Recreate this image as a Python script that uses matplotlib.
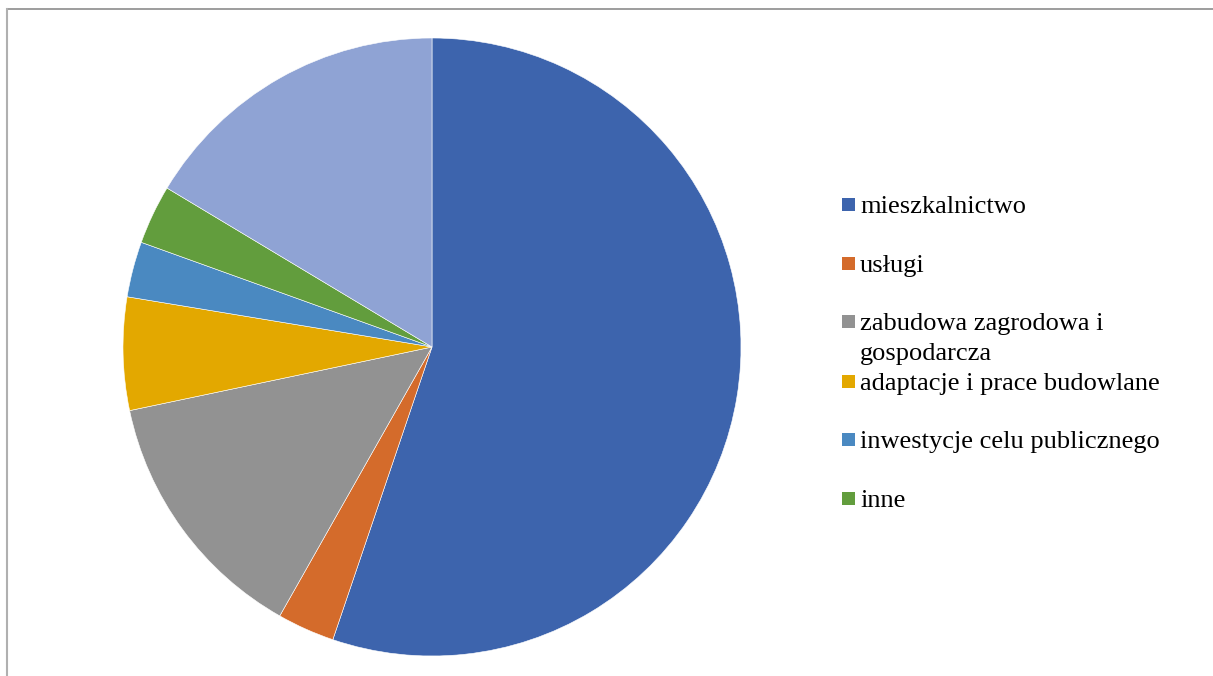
import matplotlib.pyplot as plt
from matplotlib.patches import Rectangle
from matplotlib.lines import Line2D

# kategorie (ostatni wycinek nie ma wpisu w legendzie)
labels = [
    "mieszkalnictwo",
    "usługi",
    "zabudowa zagrodowa i\ngospodarcza",
    "adaptacje i prace budowlane",
    "inwestycje celu publicznego",
    "inne",
    "",
]
shares = [55.2, 3.0, 13.5, 5.9, 2.9, 3.1, 16.4]
colors = ["#3D64AD", "#D46B2B", "#929292", "#E3A800", "#4A89C1", "#629D3D", "#8FA3D4"]

W, H = 1213, 676
fig = plt.figure(figsize=(W / 100, H / 100), dpi=100)
fig.patch.set_facecolor("white")

# ramka wykresu (widoczna tylko góra i lewa strona)
fig.add_artist(Line2D([7 / W, 1.0], [1 - 9 / H, 1 - 9 / H], color="#8C8C8C", lw=1.2))
fig.add_artist(Line2D([7 / W, 7 / W], [0, 1 - 9 / H], color="#B0B0B0", lw=1.5))

# koło: środek ~ (432, 347), promień ~309 px
cx, cy, r = 432, 347, 309
ax = fig.add_axes([(cx - r) / W, (H - cy - r) / H, 2 * r / W, 2 * r / H])
ax.pie(
    shares,
    colors=colors,
    startangle=90,
    counterclock=False,
    radius=1.0,
    wedgeprops=dict(edgecolor="white", linewidth=0.4),
)
ax.set_xlim(-1, 1)
ax.set_ylim(-1, 1)
ax.set_aspect("auto")
ax.axis("off")

# legenda rysowana ręcznie
leg_y = [206, 265, 323, 383, 441, 500]
for lab, col, y in zip(labels[:6], colors[:6], leg_y):
    fig.add_artist(
        Rectangle((842 / W, 1 - (y + 5) / H), 13 / W, 13 / H,
                  facecolor=col, edgecolor="none", transform=fig.transFigure)
    )
    lines = lab.split("\n")
    for k, line in enumerate(lines):
        fig.text(860 / W, 1 - (y + 1 + k * 30) / H, line, fontsize=19,
                 family="Liberation Serif", va="center", ha="left", color="black")

fig.savefig("out.png", dpi=100)
